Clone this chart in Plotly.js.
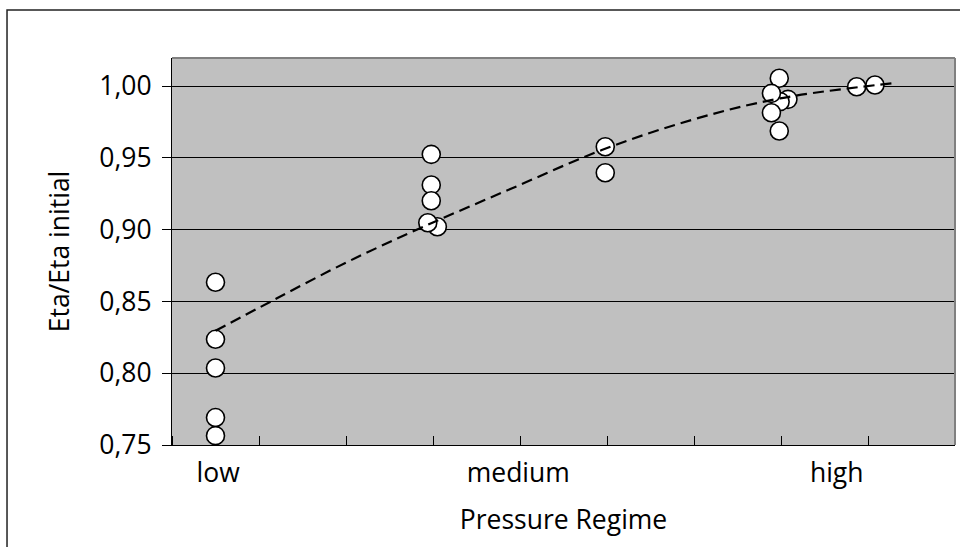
<!DOCTYPE html>
<html>
<head>
<meta charset="utf-8">
<script src="https://cdn.plot.ly/plotly-3.0.1.min.js"></script>
<style>
  html, body { margin: 0; padding: 0; background: #fff; }
  #chart { width: 960px; height: 547px; }
</style>
</head>
<body>
<div id="chart"></div>
<script>
// Measured points (x position on regime scale, Eta/Eta initial)
const pointX = [0.50, 0.50, 0.50, 0.50, 0.50,
                2.98, 2.98, 2.98, 3.05, 2.94,
                4.98, 4.98,
                6.98, 7.08, 6.99, 6.89, 6.89, 6.98,
                7.87, 8.08];
const pointY = [0.8633, 0.8236, 0.8036, 0.7691, 0.7565,
                0.9524, 0.9311, 0.9201, 0.9020, 0.9048,
                0.9577, 0.9396,
                1.0054, 0.9907, 0.9891, 0.9949, 0.9814, 0.9687,
                0.9995, 1.0007];

// Trend line
const trendX = [0.50, 1.17, 2.00, 2.89, 3.91, 4.94, 5.97, 6.99, 8.28];
const trendY = [0.8295, 0.8510, 0.8770, 0.9020, 0.9288, 0.9554, 0.9763, 0.9914, 1.0019];

// Category labels on the x axis
const regimeLabels = ["low", "medium", "high"];
const regimePos = [0.53, 3.98, 7.64];

const yTicks = [0.75, 0.80, 0.85, 0.90, 0.95, 1.00];

const FONT = "Open Sans";
const FS = 26.5;

const traces = [
  {
    type: "scatter", mode: "markers",
    x: pointX, y: pointY,
    marker: { size: 18, color: "#ffffff", line: { color: "#000000", width: 1.6 } },
    hoverinfo: "x+y", showlegend: false
  },
  {
    type: "scatter", mode: "lines",
    x: trendX, y: trendY,
    line: { color: "#000000", width: 2.2, dash: "11px,6px", shape: "spline" },
    showlegend: false
  }
];

const layout = {
  width: 960, height: 547,
  margin: { l: 172, r: 5, t: 58, b: 102, pad: 0 },
  paper_bgcolor: "#ffffff",
  plot_bgcolor: "#c0c0c0",
  separators: ", ",
  font: { family: FONT, size: FS, color: "#000000" },
  showlegend: false,
  xaxis: {
    range: [0, 9],
    tickmode: "array", tickvals: regimePos, ticktext: regimeLabels,
    ticks: "", showgrid: false, zeroline: false,
    showline: true, linecolor: "#000000", linewidth: 1,
    tickfont: { family: FONT, size: FS, color: "#000" },
    ticklabelstandoff: 4,
    minor: { tickmode: "linear", tick0: 0, dtick: 1, ticks: "inside", ticklen: 9, tickwidth: 1, tickcolor: "#000", showgrid: false },
    title: { text: "Pressure Regime", font: { family: FONT, size: FS, color: "#000" }, standoff: 21 }
  },
  yaxis: {
    range: [0.75, 1.0195],
    tickmode: "array", tickvals: yTicks, tickformat: ".2f",
    ticks: "outside", ticklen: 9, tickwidth: 1, tickcolor: "#000",
    ticklabelstandoff: 5,
    showgrid: true, gridcolor: "#000000", gridwidth: 1,
    zeroline: false,
    showline: true, linecolor: "#000000", linewidth: 1,
    tickfont: { family: FONT, size: FS, color: "#000" },
    title: { text: "Eta/Eta initial", font: { family: FONT, size: FS, color: "#000" }, standoff: 22 }
  },
  shapes: [
    { type: "line", xref: "paper", yref: "paper", x0: 0, x1: 1, y0: 1, y1: 1,
      line: { color: "#808080", width: 2 }, layer: "above" },
    { type: "line", xref: "paper", yref: "paper", x0: 1, x1: 1, y0: 0, y1: 1,
      line: { color: "#808080", width: 2 }, layer: "above" },
    { type: "rect", xref: "paper", yref: "paper", x0: -0.2107, x1: 1.1, y0: -0.5, y1: 1.124,
      line: { color: "#222222", width: 1.5 }, fillcolor: "rgba(0,0,0,0)", layer: "below" }
  ]
};

Plotly.newPlot("chart", traces, layout, { staticPlot: true, displayModeBar: false });
</script>
</body>
</html>
